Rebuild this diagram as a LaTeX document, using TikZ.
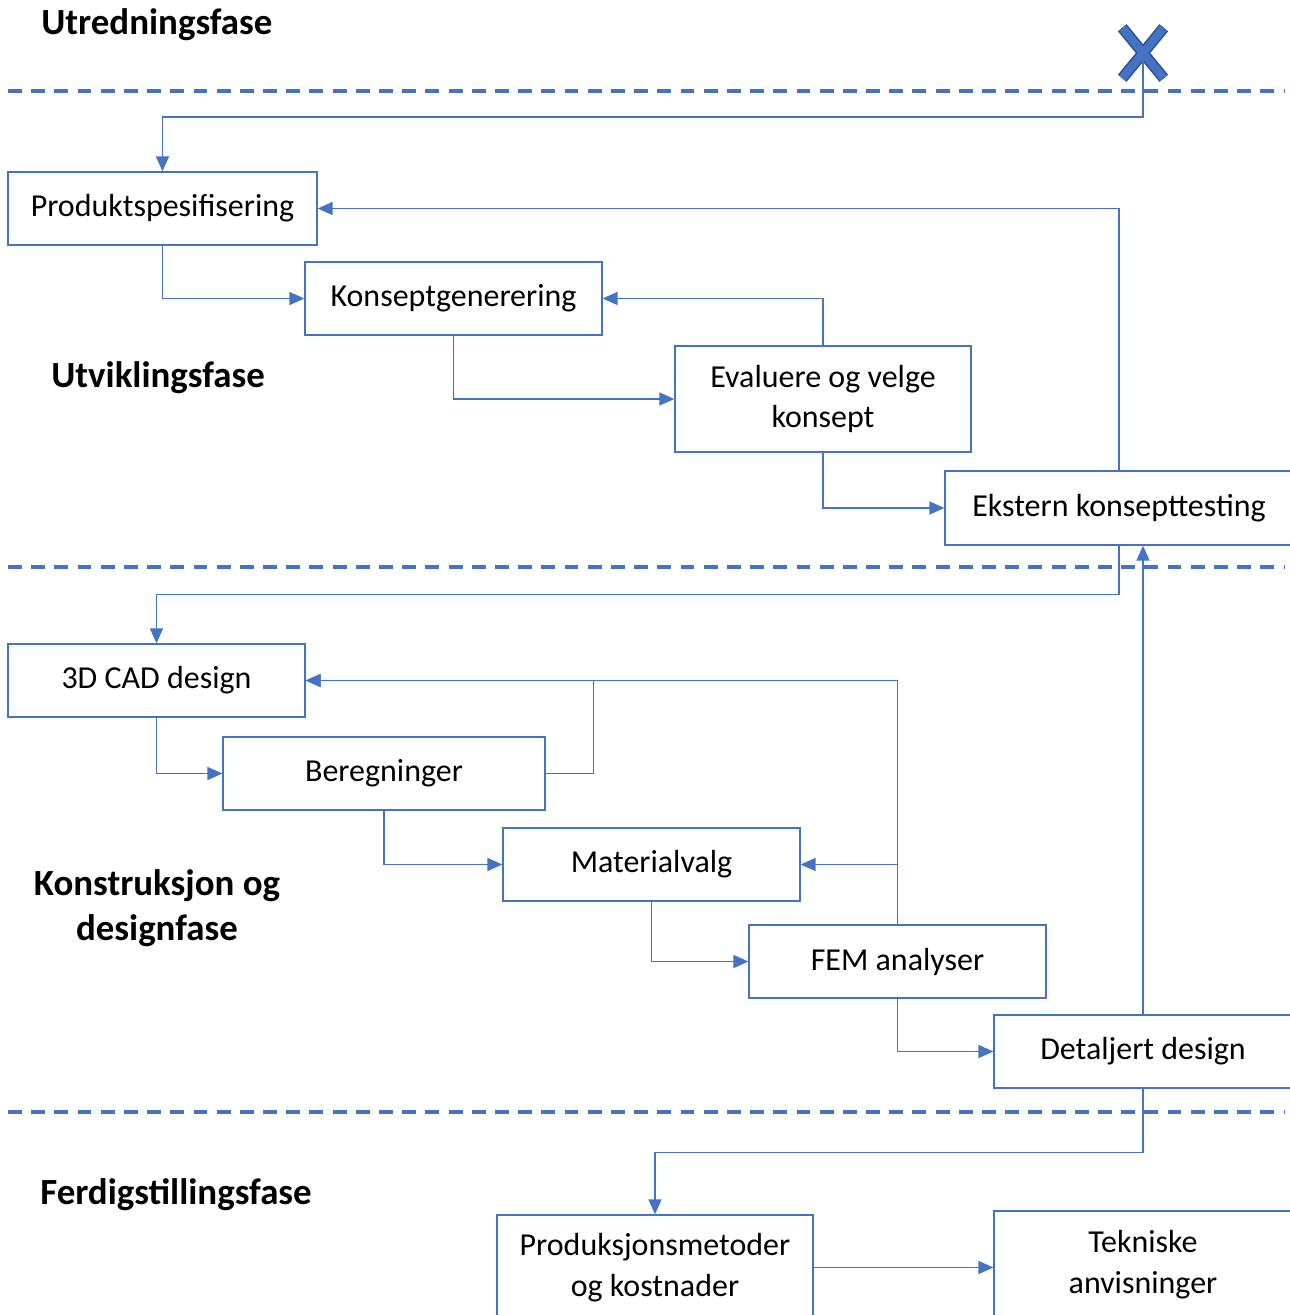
\documentclass[tikz,border=0pt]{standalone}
\usepackage{fontspec}
\setmainfont{Carlito}
\usepackage{tikz}
\usetikzlibrary{positioning}
\usetikzlibrary{arrows.meta,shapes.misc}

\definecolor{wordblue}{HTML}{4472C4}
\definecolor{darkblue}{HTML}{2F528F}

\tikzset{
  box/.style={draw=wordblue,line width=0.8pt,minimum height=1.46cm,inner sep=0pt,align=center,font=\fontsize{18.2}{23.2}\selectfont},
  phase/.style={inner sep=0pt,font=\fontsize{21}{25.5}\selectfont\bfseries,align=center},
  phaseline/.style={draw=wordblue,line width=2pt,dash pattern=on 7.9pt off 5.3pt},
  link/.style={draw=wordblue,line width=0.8pt},
}

\begin{document}
\begin{tikzpicture}[x=0.02cm,y=-0.02cm,>={Triangle[length=8.5pt,width=7.4pt]}]
    \path[use as bounding box,clip] (0,0) rectangle (1290,1315);
    % phase labels
    \node (UF) [phase,anchor=west] at (41,25) {Utredningsfase};
    \node (VF) [phase,anchor=west] at (51,378) {Utviklingsfase};
    \node (KF) [phase] at (157,908) {Konstruksjon og\\designfase};
    \node (FF) [phase,anchor=west] at (40,1195) {Ferdigstillingsfase};
    \draw [phaseline] (8,91) -- (1285,91);
    \draw [phaseline] (8,567) -- (1285,567);
    \draw [phaseline] (8,1112) -- (1285,1112);

    % boxes
    \node (PS) [box,minimum width=6.18cm] at (162.5,208.5) {Produktspesifisering};
    \node (KG) [box,minimum width=5.94cm] at (453.5,298.5) {Konseptgenerering};
    \node (EV) [box,minimum width=5.92cm,minimum height=2.12cm] at (823,399) {Evaluere og velge\\konsept};
    \node (EK) [box,minimum width=6.96cm,minimum height=1.48cm] at (1119,508) {Ekstern konsepttesting};
    \node (CAD) [box,minimum width=5.94cm] at (156.5,680.5) {3D CAD design};
    \node (BR) [box,minimum width=6.44cm] at (384,773.5) {Beregninger};
    \node (MV) [box,minimum width=5.94cm] at (651.5,864.5) {Materialvalg};
    \node (FEM) [box,minimum width=5.94cm] at (897.5,961.5) {FEM analyser};
    \node (DD) [box,minimum width=5.96cm] at (1143,1051.5) {Detaljert design};
    \node (PM) [box,minimum width=6.32cm,minimum height=2.1cm] at (655,1267.5) {Produksjonsmetoder\\og kostnader};
    \node (TA) [box,minimum width=5.96cm,minimum height=2.16cm] at (1143,1265) {Tekniske\\anvisninger};
    \node (X) [cross out,draw=darkblue,line width=0.9pt,double=wordblue,double distance=4.6pt,minimum width=0.8cm,minimum height=0.98cm] at (1143,53) {};

    % connectors
    \draw [link,->] (X.center) -- ++(0,64) -| (PS.north);
    \draw [link,->] (PS.south) |- (KG.west);
    \draw [link,->] (EK.north) |- (PS.east);
    \draw [link,->] (KG.south) |- (EV.west);
    \draw [link,->] (EV.north) |- (KG.east);
    \draw [link,->] (EV.south) |- (EK.west);
    \draw [link,->] (EK.south) -- ++(0,49) -| (CAD.north);
    \draw [link,->] (DD.north) -- (DD.north |- EK.south);
    \draw [link,->] (CAD.south) |- (BR.west);
    \draw [link,->] (BR.east) -- ++(48,0) |- (CAD.east);
    \draw [link,->] (FEM.north) |- (CAD.east);
    \draw [link,->] (FEM.north) |- (MV.east);
    \draw [link,->] (BR.south) |- (MV.west);
    \draw [link,->] (MV.south) |- (FEM.west);
    \draw [link,->] (FEM.south) |- (DD.west);
    \draw [link,->] (DD.south) -- ++(0,64) -| (PM.north);
    \draw [link,->] (PM.east) -- (PM.east -| TA.west);
\end{tikzpicture}
\end{document}
